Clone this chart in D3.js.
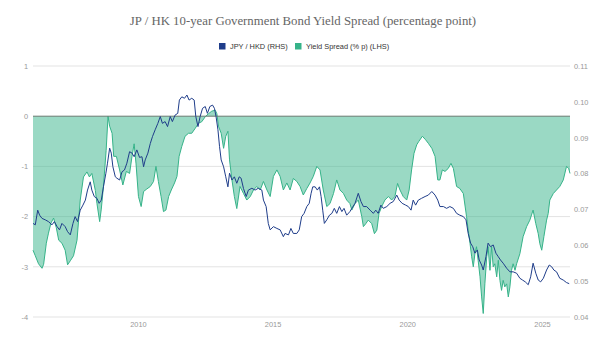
<!DOCTYPE html>
<html><head><meta charset="utf-8">
<script src="https://cdn.jsdelivr.net/npm/d3@7"></script>
<style>body{margin:0;background:#fff}svg{display:block}</style>
</head><body><svg id="c" width="605" height="347"></svg>
<script>
const titleText = "JP / HK 10-year Government Bond Yield Spread (percentage point)";
const legendLabels = ["JPY / HKD (RHS)", "Yield Spread (% p) (LHS)"];
const leftTicks = [1, 0, -1, -2, -3, -4];
const rightTicks = [0.11, 0.10, 0.09, 0.08, 0.07, 0.06, 0.05, 0.04];
const yearTicks = [2010, 2015, 2020, 2025];

// Yield spread (percentage point), time in decimal years
const spreadTime = [2006.105,2006.19,2006.31,2006.44,2006.50,2006.60,2006.68,2006.77,2006.87,2006.97,
2007.06,2007.18,2007.30,2007.39,2007.49,2007.61,2007.74,2007.86,2007.98,2008.11,2008.20,2008.29,2008.42,
2008.48,2008.58,2008.64,2008.72,2008.82,2008.89,2008.95,2009.04,2009.10,2009.20,2009.32,2009.44,2009.57,
2009.69,2009.78,2009.86,2009.93,2010.02,2010.12,2010.21,2010.33,2010.46,2010.58,2010.67,2010.76,2010.86,
2010.95,2011.04,2011.14,2011.24,2011.36,2011.45,2011.53,2011.63,2011.75,2011.88,2012.00,2012.13,2012.25,
2012.37,2012.50,2012.62,2012.74,2012.87,2012.93,2012.99,2013.09,2013.18,2013.26,2013.34,2013.40,2013.49,
2013.58,2013.67,2013.79,2013.92,2014.04,2014.17,2014.29,2014.41,2014.54,2014.66,2014.79,2014.91,2015.03,
2015.16,2015.28,2015.40,2015.53,2015.65,2015.77,2015.90,2016.02,2016.14,2016.27,2016.39,2016.51,2016.64,
2016.76,2016.88,2017.01,2017.13,2017.26,2017.38,2017.50,2017.63,2017.75,2017.87,2017.94,2018.06,2018.18,
2018.31,2018.37,2018.46,2018.55,2018.68,2018.78,2018.87,2018.95,2019.05,2019.17,2019.30,2019.42,2019.54,
2019.64,2019.73,2019.85,2019.98,2020.07,2020.16,2020.25,2020.35,2020.43,2020.56,2020.68,2020.78,2020.91,
2021.03,2021.13,2021.21,2021.30,2021.40,2021.52,2021.62,2021.71,2021.83,2021.95,2022.08,2022.20,2022.26,
2022.33,2022.39,2022.45,2022.51,2022.57,2022.63,2022.70,2022.76,2022.82,2022.88,2022.95,2023.00,2023.07,
2023.13,2023.19,2023.25,2023.32,2023.38,2023.44,2023.50,2023.56,2023.62,2023.69,2023.75,2023.81,2023.87,
2023.93,2024.00,2024.06,2024.18,2024.30,2024.43,2024.55,2024.67,2024.77,2024.86,2024.92,2024.99,2025.07,
2025.17,2025.23,2025.29,2025.42,2025.54,2025.66,2025.79,2025.91,2025.99,2026.04];
const spreadValues = [-2.67,-2.78,-2.94,-3.03,-2.95,-2.53,-2.33,-2.13,-2.03,-2.22,
-2.47,-2.53,-2.67,-2.96,-2.88,-2.78,-2.47,-1.67,-1.21,-1.11,-1.21,-1.14,-1.48,
-1.74,-2.10,-1.85,-1.40,-0.68,0.00,-0.20,-0.34,-0.80,-0.80,-1.07,-1.37,-1.10,
-1.14,-0.80,-0.55,-0.95,-1.60,-1.80,-1.50,-1.45,-1.40,-1.30,-1.00,-1.30,-1.60,
-1.90,-1.87,-1.60,-1.47,-1.33,-1.20,-0.80,-0.60,-0.40,-0.34,-0.34,-0.24,-0.14,
-0.11,-0.01,0.05,0.10,0.12,0.05,-0.20,-0.34,-0.64,-0.40,-0.30,-0.87,-1.27,
-1.60,-1.84,-1.40,-1.54,-1.67,-1.60,-1.47,-1.40,-1.47,-1.30,-1.47,-1.60,-1.20,
-1.07,-1.20,-1.47,-1.33,-1.47,-1.24,-1.30,-1.40,-1.57,-1.44,-1.33,-1.20,-1.00,
-1.07,-1.47,-1.80,-1.74,-1.54,-1.27,-1.47,-1.54,-1.67,-1.74,-1.87,-1.74,-1.67,
-2.00,-2.20,-2.14,-2.07,-2.14,-2.34,-2.27,-1.94,-1.80,-1.67,-1.60,-1.67,-1.60,
-1.34,-1.47,-1.60,-1.67,-1.47,-1.07,-0.74,-0.57,-0.50,-0.40,-0.47,-0.54,-0.64,
-0.80,-1.27,-1.27,-1.07,-1.10,-1.04,-0.94,-1.04,-1.40,-1.44,-1.54,-2.00,-2.27,
-2.54,-2.80,-3.00,-2.74,-2.60,-2.87,-3.20,-3.60,-3.93,-3.34,-2.80,-2.60,-3.07,
-2.60,-3.00,-2.94,-3.20,-2.87,-3.27,-3.47,-3.27,-3.40,-3.34,-3.60,-3.40,-3.07,
-2.94,-3.07,-2.94,-2.74,-2.40,-2.20,-2.07,-1.87,-2.14,-2.34,-2.54,-2.67,-2.40,
-2.07,-1.94,-1.67,-1.54,-1.47,-1.40,-1.27,-1.00,-1.04,-1.14];

// JPY / HKD exchange rate
const fxTime = [2006.105,2006.19,2006.28,2006.35,2006.44,2006.56,2006.68,2006.81,2006.90,2007.00,
2007.09,2007.18,2007.30,2007.39,2007.49,2007.59,2007.67,2007.76,2007.86,2007.96,2008.05,2008.13,2008.23,
2008.29,2008.38,2008.48,2008.56,2008.64,2008.72,2008.81,2008.87,2008.95,2009.01,2009.07,2009.16,2009.22,
2009.32,2009.41,2009.50,2009.59,2009.69,2009.78,2009.86,2009.96,2010.06,2010.15,2010.21,2010.27,2010.37,
2010.46,2010.54,2010.64,2010.74,2010.83,2010.91,2011.01,2011.10,2011.20,2011.28,2011.38,2011.48,2011.54,
2011.63,2011.73,2011.82,2011.90,2012.00,2012.09,2012.15,2012.23,2012.31,2012.40,2012.50,2012.58,2012.67,
2012.77,2012.84,2012.90,2012.97,2013.03,2013.09,2013.18,2013.26,2013.34,2013.40,2013.49,2013.58,2013.67,
2013.76,2013.83,2013.92,2014.02,2014.10,2014.23,2014.35,2014.47,2014.60,2014.66,2014.76,2014.84,2014.91,
2015.03,2015.16,2015.28,2015.40,2015.46,2015.59,2015.68,2015.77,2015.90,2015.99,2016.08,2016.17,2016.27,
2016.36,2016.43,2016.49,2016.58,2016.66,2016.74,2016.80,2016.86,2016.92,2017.01,2017.11,2017.20,2017.29,
2017.38,2017.48,2017.57,2017.65,2017.75,2017.87,2017.94,2018.06,2018.18,2018.28,2018.37,2018.49,2018.62,
2018.74,2018.83,2018.92,2019.02,2019.11,2019.24,2019.36,2019.48,2019.61,2019.70,2019.81,2019.94,2020.04,
2020.14,2020.22,2020.31,2020.41,2020.53,2020.66,2020.78,2020.91,2021.03,2021.13,2021.21,2021.34,2021.46,
2021.58,2021.71,2021.83,2021.95,2022.08,2022.18,2022.26,2022.35,2022.43,2022.51,2022.60,2022.67,2022.76,
2022.82,2022.92,2023.00,2023.09,2023.19,2023.29,2023.38,2023.46,2023.56,2023.69,2023.81,2023.93,2024.06,
2024.18,2024.28,2024.38,2024.49,2024.58,2024.67,2024.77,2024.86,2024.95,2025.05,2025.17,2025.27,2025.36,
2025.44,2025.54,2025.66,2025.79,2025.91,2026.01];
const fxValues = [0.0661,0.0657,0.0698,0.0684,0.0675,0.0671,0.0666,0.0657,0.0666,0.0652,
0.0643,0.0661,0.0652,0.0638,0.0629,0.0661,0.0680,0.0666,0.0698,0.0712,0.0726,0.0754,0.0777,
0.0754,0.0736,0.0731,0.0717,0.0726,0.0763,0.0801,0.0829,0.0871,0.0857,0.0819,0.0791,0.0787,
0.0782,0.0805,0.0810,0.0829,0.0861,0.0857,0.0847,0.0866,0.0845,0.0847,0.0819,0.0838,0.0857,
0.0884,0.0903,0.0922,0.0940,0.0959,0.0940,0.0945,0.0931,0.0959,0.0945,0.0963,0.0968,0.1005,
0.1014,0.1010,0.1019,0.1005,0.1010,0.1005,0.0959,0.0931,0.0959,0.0982,0.0987,0.0968,0.0987,
0.0991,0.0982,0.0959,0.0922,0.0875,0.0838,0.0819,0.0791,0.0763,0.0801,0.0782,0.0791,0.0773,
0.0791,0.0787,0.0758,0.0736,0.0754,0.0759,0.0754,0.0759,0.0754,0.0726,0.0708,0.0661,0.0643,
0.0652,0.0647,0.0643,0.0624,0.0633,0.0629,0.0647,0.0633,0.0633,0.0643,0.0680,0.0689,0.0708,
0.0717,0.0745,0.0763,0.0763,0.0754,0.0763,0.0736,0.0698,0.0661,0.0671,0.0684,0.0689,0.0703,
0.0689,0.0708,0.0694,0.0703,0.0684,0.0694,0.0703,0.0717,0.0745,0.0722,0.0708,0.0708,0.0698,
0.0689,0.0698,0.0689,0.0712,0.0703,0.0708,0.0717,0.0722,0.0740,0.0726,0.0717,0.0712,0.0708,
0.0698,0.0726,0.0712,0.0726,0.0731,0.0736,0.0740,0.0750,0.0740,0.0726,0.0708,0.0708,0.0703,
0.0708,0.0703,0.0689,0.0684,0.0680,0.0671,0.0633,0.0606,0.0596,0.0578,0.0587,0.0559,0.0545,
0.0531,0.0568,0.0606,0.0596,0.0601,0.0578,0.0568,0.0559,0.0550,0.0536,0.0526,0.0526,0.0522,
0.0508,0.0503,0.0498,0.0490,0.0512,0.0550,0.0522,0.0503,0.0498,0.0508,0.0531,0.0545,0.0540,
0.0531,0.0526,0.0508,0.0503,0.0496,0.0493];

const colorFx = "#1f3d8a";
const colorSpread = "#36b389";

function toDate(t){
  const y = Math.floor(t);
  const a = new Date(y,0,1).getTime(), b = new Date(y+1,0,1).getTime();
  return new Date(a + (t - y) * (b - a));
}
const spread = spreadTime.map((t,i)=>({d:toDate(t), v:spreadValues[i]}));
const fx = fxTime.map((t,i)=>({d:toDate(t), v:fxValues[i]}));

const svg = d3.select("#c");
const L = 33, R = 570, T = 66, B = 317;

const x = d3.scaleTime()
  .domain([d3.min([spread[0].d, fx[0].d]), d3.max([spread[spread.length-1].d, fx[fx.length-1].d])])
  .range([L, R]);
const yL = d3.scaleLinear().domain([-4, 1]).range([B, T]);
const yR = d3.scaleLinear().domain([0.04, 0.11]).range([B, T]);

// title
svg.append("text").attr("x", 303).attr("y", 25).attr("text-anchor","middle")
  .attr("font-family","'Liberation Serif', Georgia, serif").attr("font-size", 12.8)
  .attr("fill","#666").text(titleText);

// legend
const lg = svg.append("g").attr("font-family","'Liberation Sans', Arial, sans-serif")
  .attr("font-size", 7.4).attr("fill","#333");
const legendItems = [{c:colorFx, x:219}, {c:colorSpread, x:295}];
legendItems.forEach((it,i)=>{
  lg.append("rect").attr("x", it.x).attr("y", 43).attr("width", 6.5).attr("height", 6.5).attr("fill", it.c);
  lg.append("text").attr("x", it.x + 11).attr("y", 49).text(legendLabels[i]);
});

// grid
const grid = svg.append("g");
grid.selectAll("line").data(leftTicks.filter(d=>d!==0)).join("line")
  .attr("x1", L).attr("x2", R).attr("y1", d=>yL(d)).attr("y2", d=>yL(d))
  .attr("stroke","#e3e3e3").attr("stroke-width",1);

// spread area
const area = d3.area().x(d=>x(d.d)).y0(yL(0)).y1(d=>yL(d.v)).curve(d3.curveLinear);
svg.append("path").datum(spread).attr("d", area).attr("fill", colorSpread).attr("fill-opacity", 0.5);
svg.append("path").datum(spread).attr("d", d3.line().x(d=>x(d.d)).y(d=>yL(d.v)))
  .attr("fill","none").attr("stroke", colorSpread).attr("stroke-width", 1);

// zero line
svg.append("line").attr("x1", L).attr("x2", R).attr("y1", yL(0)).attr("y2", yL(0))
  .attr("stroke","#6a7a72").attr("stroke-width",1);

// fx line
svg.append("path").datum(fx).attr("d", d3.line().x(d=>x(d.d)).y(d=>yR(d.v)))
  .attr("fill","none").attr("stroke", colorFx).attr("stroke-width", 1);

// axes
const axisFont = {"font-family":"'Liberation Sans', Arial, sans-serif", "font-size":7.4};
const gl = svg.append("g").attr("transform", `translate(${L-5},0)`)
  .call(d3.axisLeft(yL).tickValues(leftTicks).tickSize(0).tickPadding(0).tickFormat(d3.format("d")));
const gr = svg.append("g").attr("transform", `translate(${R+4},0)`)
  .call(d3.axisRight(yR).tickValues(rightTicks).tickSize(0).tickPadding(0).tickFormat(d3.format(".2f")));
const gx = svg.append("g").attr("transform", `translate(0,${B+3})`)
  .call(d3.axisBottom(x).tickValues(yearTicks.map(y=>new Date(y,0,1))).tickSize(0).tickPadding(0)
    .tickFormat(d3.timeFormat("%Y")));
[gl, gr, gx].forEach(g=>{
  g.select(".domain").remove();
  g.selectAll("text").attr("fill","#999").attr("font-family",axisFont["font-family"]).attr("font-size",axisFont["font-size"]);
});
gl.selectAll("text").text(d=> d<0 ? "-" + Math.abs(d) : d);
gx.selectAll("text").attr("dy","0.9em");
</script></body></html>
